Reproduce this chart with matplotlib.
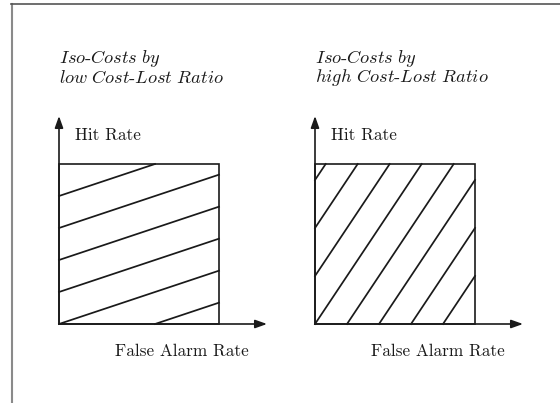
import numpy as np
import matplotlib
matplotlib.use("Agg")
import matplotlib.pyplot as plt
from matplotlib.lines import Line2D

plt.rcParams['font.family'] = ['cmr10', 'DejaVu Serif']
plt.rcParams['mathtext.fontset'] = 'cm'
plt.rcParams['axes.unicode_minus'] = False

# Data: iso-cost lines y = slope * x + intercept in the unit ROC square
panel_titles = [("Iso-Costs by", "low Cost-Lost Ratio"),
                ("Iso-Costs by", "high Cost-Lost Ratio")]
slopes = [1.0 / 3.0, 1.5]
intercepts_low = [0.8, 0.6, 0.4, 0.2, 0.0, -0.2]
intercepts_high = [0.9, 0.6, 0.3, 0.0, -0.3, -0.6, -0.9, -1.2]
intercepts = [intercepts_low, intercepts_high]
y_label = "Hit Rate"
x_label = "False Alarm Rate"

W, H = 560, 403
fig = plt.figure(figsize=(W / 100, H / 100), dpi=100)
fig.patch.set_facecolor('white')

# outer frame (partially visible)
fig.add_artist(Line2D([11.5 / W, 11.5 / W], [0, 1 - 4 / H], transform=fig.transFigure,
                      color='#8a8a8a', lw=1.5))
fig.add_artist(Line2D([11 / W, 1], [1 - 4 / H, 1 - 4 / H], transform=fig.transFigure,
                      color='#555555', lw=1.2))

box_px = [(59, 164), (315, 164)]
size_px = 160
ink = '#1a1a1a'
fs = 12.4
fs_title = 13.2


def italic(s):
    parts = s.split('-')
    return '-'.join(r'$\mathit{' + p.replace(' ', r'\ ') + '}$' for p in parts)


for i in range(2):
    x0, y0 = box_px[i]
    ax = fig.add_axes([x0 / W, 1 - (y0 + size_px) / H, size_px / W, size_px / H])
    ax.set_xlim(0, 1)
    ax.set_ylim(0, 1)
    ax.axis('off')

    # box
    ax.plot([0, 1, 1, 0, 0], [0, 0, 1, 1, 0], color=ink, lw=1.2, clip_on=False,
            solid_joinstyle='miter')

    # iso-cost lines, clipped to the unit square
    for c in intercepts[i]:
        xa = max(0.0, (0 - c) / slopes[i])
        xb = min(1.0, (1 - c) / slopes[i])
        if xb <= xa:
            continue
        ax.plot([xa, xb], [slopes[i] * xa + c, slopes[i] * xb + c], color=ink,
                lw=1.25, clip_on=False)

    # axes arrows
    for (xe, ye) in [(1.3, 0), (0, 1.3)]:
        ax.annotate('', xy=(xe, ye), xytext=(0, 0), xycoords='data',
                    annotation_clip=False,
                    arrowprops=dict(arrowstyle='-|>,head_length=0.7,head_width=0.25',
                                    color=ink, lw=1.2, shrinkA=0, shrinkB=0))

    ax.text(0.1, 1.18, y_label, fontsize=fs, ha='left', va='center', color=ink)
    ax.text(0.35, -0.17, x_label, fontsize=fs, ha='left', va='center', color=ink)
    ax.text(0.0, 1.66, italic(panel_titles[i][0]), fontsize=fs_title, ha='left',
            va='center', color=ink)
    ax.text(0.0, 1.54, italic(panel_titles[i][1]), fontsize=fs_title, ha='left',
            va='center', color=ink)

fig.savefig('out.png', dpi=100, facecolor='white')
